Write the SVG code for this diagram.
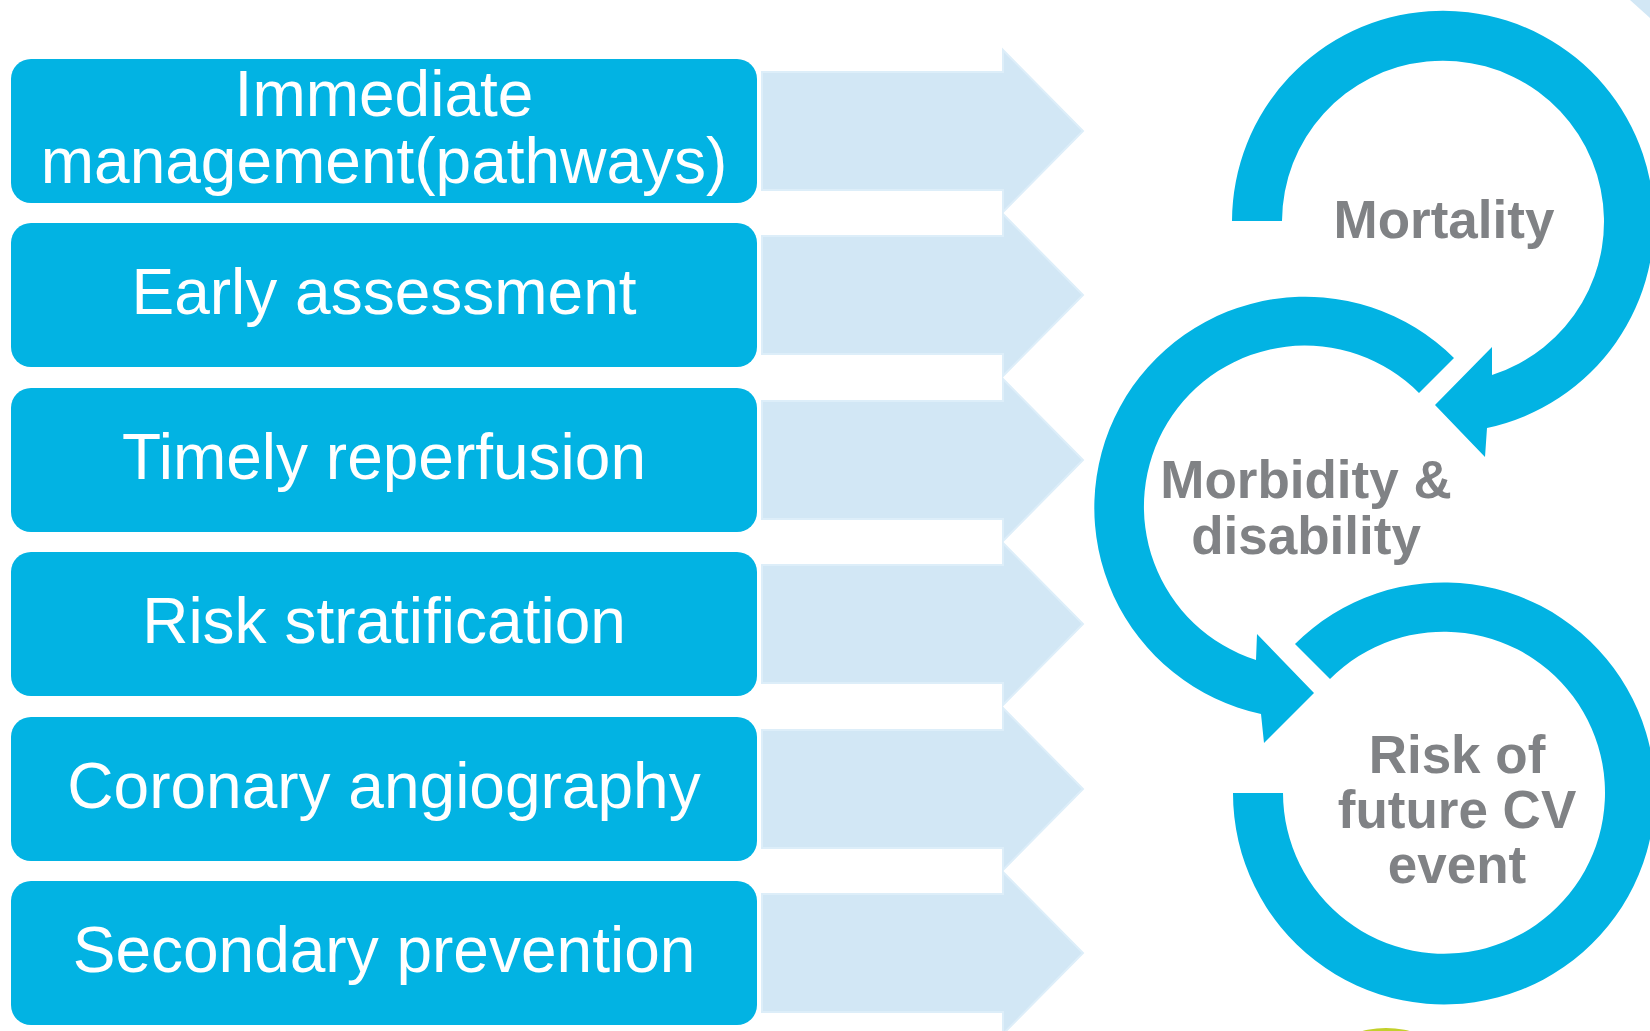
<svg xmlns="http://www.w3.org/2000/svg" width="1650" height="1031" viewBox="0 0 1650 1031">
  <style>
    .box { fill: #02B3E3; }
    .box-label { font-family: "Liberation Sans", Arial, sans-serif; font-size: 64px; fill: #FFFFFF; text-anchor: middle; }
    .flow { fill: #D2E7F5; stroke: #DDEEF9; stroke-width: 2; }
    .ring { fill: #02B3E3; }
    .ring-label { font-family: "Liberation Sans", Arial, sans-serif; font-size: 53px; font-weight: bold; fill: #808285; text-anchor: middle; }
  </style>

  <rect width="1650" height="1031" fill="#FFFFFF"/>

  <!-- partial shapes at the page edges -->
  <polygon points="1630,0 1650,0 1650,18" fill="#D2E7F5"/>
  <circle cx="1386" cy="1122" r="94" fill="#C3D02B"/>

  <!-- wide arrows from each step towards the outcomes -->
  <g id="connectors">
    <polygon class="flow" points="762,72 1003,72 1003,50 1083,131 1003,212 1003,190 762,190"/>
    <polygon class="flow" points="762,236 1003,236 1003,214 1083,295 1003,376 1003,354 762,354"/>
    <polygon class="flow" points="762,401 1003,401 1003,379 1083,460 1003,541 1003,519 762,519"/>
    <polygon class="flow" points="762,565 1003,565 1003,543 1083,624 1003,705 1003,683 762,683"/>
    <polygon class="flow" points="762,730 1003,730 1003,708 1083,789 1003,870 1003,848 762,848"/>
    <polygon class="flow" points="762,894 1003,894 1003,872 1083,953 1003,1034 1003,1012 762,1012"/>
  </g>

  <!-- care steps -->
  <g id="immediate-management">
    <rect class="box" x="11" y="59" width="746" height="144" rx="20"/>
    <text class="box-label" x="384" y="116">Immediate</text>
    <text class="box-label" x="384" y="183">management(pathways)</text>
  </g>
  <g id="early-assessment">
    <rect class="box" x="11" y="223" width="746" height="144" rx="20"/>
    <text class="box-label" x="384" y="314">Early assessment</text>
  </g>
  <g id="timely-reperfusion">
    <rect class="box" x="11" y="388" width="746" height="144" rx="20"/>
    <text class="box-label" x="384" y="479">Timely reperfusion</text>
  </g>
  <g id="risk-stratification">
    <rect class="box" x="11" y="552" width="746" height="144" rx="20"/>
    <text class="box-label" x="384" y="643">Risk stratification</text>
  </g>
  <g id="coronary-angiography">
    <rect class="box" x="11" y="717" width="746" height="144" rx="20"/>
    <text class="box-label" x="384" y="808">Coronary angiography</text>
  </g>
  <g id="secondary-prevention">
    <rect class="box" x="11" y="881" width="746" height="144" rx="20"/>
    <text class="box-label" x="384" y="972">Secondary prevention</text>
  </g>

  <!-- outcome cycle: three ring arrows -->
  <g id="mortality">
    <path class="ring" d="M1232,221 A211,211 0 1 1 1487,428 L1485,457 L1435,405 L1492,347 L1492,375 A161,161 0 1 0 1282,221 Z"/>
    <text class="ring-label" x="1444" y="238">Mortality</text>
  </g>
  <g id="morbidity-disability">
    <path class="ring" d="M1454,358 A211,211 0 1 0 1261,714 L1264,743 L1314,693 L1257,634 L1256,660 A161,161 0 1 1 1419,393 Z"/>
    <text class="ring-label" x="1306" y="498">Morbidity &amp;</text>
    <text class="ring-label" x="1306" y="554">disability</text>
  </g>
  <g id="future-cv-risk">
    <path class="ring" d="M1295,644 A211,211 0 1 1 1233,793 L1283,793 A161,161 0 1 0 1330,679 Z"/>
    <text class="ring-label" x="1457" y="773">Risk of</text>
    <text class="ring-label" x="1457" y="828">future CV</text>
    <text class="ring-label" x="1457" y="883">event</text>
  </g>
</svg>
